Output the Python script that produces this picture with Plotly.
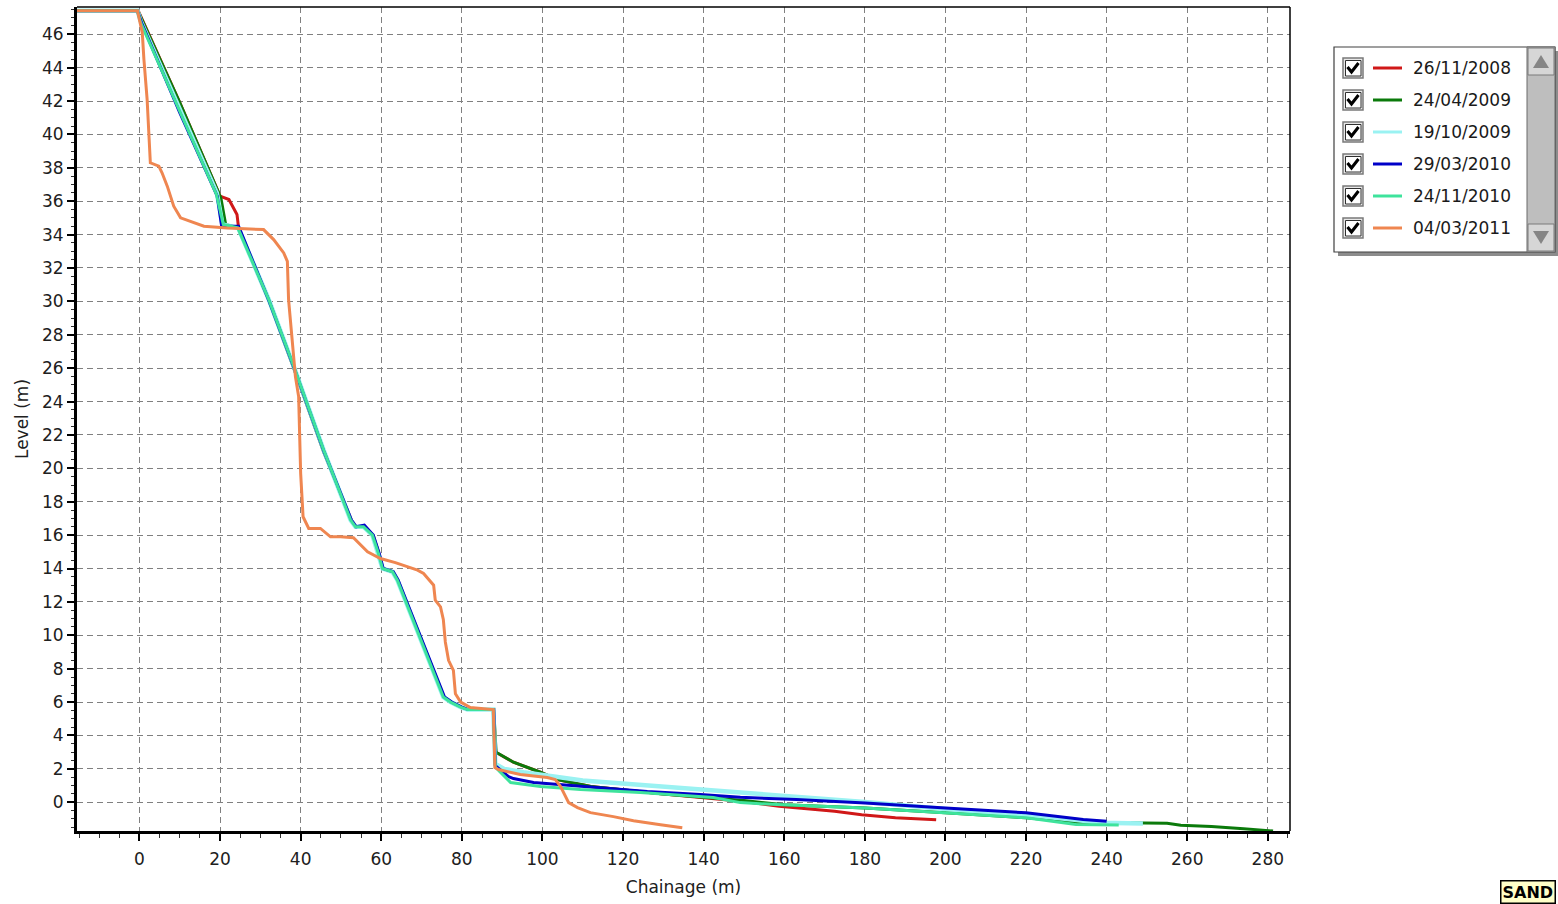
import plotly.graph_objects as go

# ---------------- data ----------------
dates = ["26/11/2008", "24/04/2009", "19/10/2009", "29/03/2010", "24/11/2010", "04/03/2011"]
colors = ["#D01818", "#0B7A0B", "#9AF2F2", "#0000C8", "#3EE39C", "#EF8650"]
widths = [3, 3, 4.5, 3, 3, 3]

x_2008_11 = [-15.5, -0.3, 10.0, 20.0, 22.2, 24.2, 24.6, 32.2, 38.3, 45.7, 52.6, 53.8, 55.8, 58.0, 59.4, 60.4,
             62.9, 64.1, 75.5, 77.3, 79.8, 81.5, 87.9, 88.4, 92.8, 99.5, 103.7, 112.0, 130.0, 150.0, 158.7,
             172.5, 179.2, 187.6, 197.7]
y_2008_11 = [47.4, 47.4, 41.9, 36.3, 36.1, 35.2, 34.4, 30.0, 26.0, 21.0, 16.9, 16.5, 16.5, 16.0, 14.9, 14.0,
             13.8, 13.3, 6.3, 6.0, 5.7, 5.55, 5.55, 3.0, 2.4, 1.8, 1.36, 0.95, 0.5, 0.05, -0.24,
             -0.54, -0.74, -0.92, -1.04]

x_2009_04 = [-15.5, -0.4, 10.0, 20.2, 21.4, 24.5, 32.2, 38.3, 45.7, 52.5, 53.7, 55.7, 57.9, 59.3, 60.3, 62.8,
             64.0, 75.5, 77.3, 79.8, 81.5, 87.9, 88.5, 92.8, 99.5, 103.7, 112.0, 130.0, 150.0, 160.0, 180.1,
             200.0, 220.0, 232.4, 249.6, 255.0, 258.4, 266.0, 274.0, 281.3]
y_2009_04 = [47.4, 47.4, 41.9, 36.2, 34.6, 34.4, 30.0, 26.0, 21.0, 16.9, 16.5, 16.5, 16.0, 14.9, 14.0, 13.8,
             13.3, 6.3, 6.0, 5.7, 5.55, 5.55, 3.0, 2.4, 1.8, 1.36, 0.95, 0.5, 0.1, -0.15, -0.34,
             -0.63, -0.93, -1.2, -1.22, -1.25, -1.37, -1.45, -1.58, -1.72]

x_2009_10 = [-15.5, -0.5, 0.3, 10.0, 19.2, 20.6, 24.5, 32.1, 38.3, 45.7, 52.4, 53.6, 55.6, 57.8, 59.3, 60.3,
             62.8, 64.0, 75.4, 77.2, 79.7, 81.4, 87.8, 88.3, 90.5, 95.3, 110.0, 130.0, 140.0, 150.0, 165.0,
             180.0, 200.0, 220.0, 232.0, 238.5, 249.0]
y_2009_10 = [47.4, 47.4, 46.8, 41.5, 36.5, 34.6, 34.4, 30.1, 26.1, 21.1, 16.9, 16.5, 16.5, 16.0, 14.9, 14.0,
             13.8, 13.3, 6.3, 6.0, 5.7, 5.55, 5.55, 2.3, 2.0, 1.8, 1.3, 0.95, 0.75, 0.55, 0.28,
             0.02, -0.4, -0.75, -1.05, -1.22, -1.27]

x_2010_03 = [-15.5, -0.5, 0.5, 10.0, 19.3, 20.4, 24.6, 32.2, 38.4, 45.8, 52.6, 53.8, 55.8, 58.0, 59.5, 60.5,
             63.0, 64.2, 75.7, 77.5, 80.0, 81.6, 87.9, 88.3, 91.6, 92.8, 97.8, 109.4, 126.0, 139.2, 149.1,
             163.0, 180.1, 200.0, 220.0, 234.2, 240.0]
y_2010_03 = [47.4, 47.4, 46.7, 41.3, 36.3, 34.5, 34.5, 30.0, 26.0, 21.0, 16.9, 16.5, 16.6, 16.0, 14.9, 14.0,
             13.8, 13.3, 6.3, 6.0, 5.7, 5.55, 5.55, 2.2, 1.54, 1.42, 1.18, 0.94, 0.64, 0.46, 0.3,
             0.16, -0.04, -0.34, -0.63, -1.03, -1.14]

x_2010_11 = [-15.5, -0.5, 0.3, 10.0, 19.1, 20.8, 24.4, 32.1, 38.3, 45.7, 52.4, 53.6, 55.6, 57.8, 59.3, 60.3,
             62.8, 64.0, 75.4, 77.2, 79.7, 81.4, 87.8, 88.3, 91.3, 92.1, 99.5, 109.4, 124.3, 142.4, 149.1,
             158.2, 180.1, 200.0, 220.0, 232.4, 243.0]
y_2010_11 = [47.4, 47.4, 46.7, 41.4, 36.4, 34.6, 34.4, 30.1, 26.1, 21.1, 16.9, 16.5, 16.5, 16.0, 14.9, 14.0,
             13.8, 13.3, 6.3, 6.0, 5.7, 5.55, 5.55, 2.1, 1.36, 1.18, 0.94, 0.76, 0.58, 0.28, -0.02,
             -0.14, -0.34, -0.63, -0.93, -1.33, -1.36]

x_2011_03 = [-15.5, -0.5, 0.7, 1.1, 1.9, 2.3, 2.7, 4.8, 5.6, 6.9, 8.5, 10.2, 11.8, 16.0, 21.8, 30.8, 33.3,
             35.8, 36.7, 37.0, 38.7, 39.5, 40.0, 40.6, 42.0, 44.9, 47.4, 49.9, 53.1, 56.6, 59.8, 63.5, 69.0,
             70.5, 73.0, 73.4, 74.7, 75.4, 75.9, 76.7, 77.9, 78.4, 79.7, 82.1, 87.8, 88.2, 89.1, 94.5, 101.2,
             103.2, 104.5, 105.7, 106.5, 108.7, 111.9, 117.6, 122.6, 129.3, 134.7]
y_2011_03 = [47.4, 47.4, 46.1, 44.5, 42.1, 39.7, 38.3, 38.1, 37.7, 36.9, 35.7, 35.0, 34.85, 34.5, 34.4, 34.3, 33.7,
             32.9, 32.4, 30.1, 25.5, 24.3, 19.7, 17.1, 16.4, 16.4, 15.9, 15.9, 15.85, 15.0, 14.6, 14.35, 13.9,
             13.7, 13.0, 12.1, 11.7, 10.95, 9.6, 8.5, 7.9, 6.5, 6.0, 5.67, 5.55, 2.08, 1.96, 1.66, 1.48,
             1.36, 0.94, 0.34, -0.02, -0.32, -0.62, -0.86, -1.1, -1.35, -1.53]

series_x = [x_2008_11, x_2009_04, x_2009_10, x_2010_03, x_2010_11, x_2011_03]
series_y = [y_2008_11, y_2009_04, y_2009_10, y_2010_03, y_2010_11, y_2011_03]

x_range = [-15.5, 285.5]
y_range = [-1.72, 47.63]

# ---------------- layout geometry ----------------
W, H = 1558, 904
PL, PR, PT, PB = 77, 1290, 7, 831
FONT = "DejaVu Sans"


def fx(p):
    return (p - PL) / (PR - PL)


def fy(p):
    return (PB - p) / (PB - PT)


fig = go.Figure()
for name, xs, ys, c, w in zip(dates, series_x, series_y, colors, widths):
    fig.add_trace(go.Scatter(x=xs, y=ys, mode="lines", name=name,
                             line=dict(color=c, width=w), showlegend=False))

shapes = []
annotations = []

# thin top / right frame
shapes.append(dict(type="line", xref="paper", yref="paper", x0=0, x1=1, y0=1, y1=1,
                   line=dict(color="black", width=1.5), layer="above"))
shapes.append(dict(type="line", xref="paper", yref="paper", x0=1, x1=1, y0=0, y1=1,
                   line=dict(color="black", width=1.5), layer="above"))

# ---- custom legend panel ----
LX0, LX1, LY0, LY1 = 1334, 1555, 47, 252
shapes.append(dict(type="rect", xref="paper", yref="paper", x0=fx(LX0 + 4), x1=fx(LX1 + 3),
                   y0=fy(LY1 + 4), y1=fy(LY0 + 4), fillcolor="#8c8c8c", line=dict(width=0)))
shapes.append(dict(type="rect", xref="paper", yref="paper", x0=fx(LX0), x1=fx(LX1),
                   y0=fy(LY1), y1=fy(LY0), fillcolor="white", line=dict(color="#404040", width=1.2)))
# scrollbar
SX0 = 1527
shapes.append(dict(type="rect", xref="paper", yref="paper", x0=fx(SX0), x1=fx(LX1),
                   y0=fy(LY1), y1=fy(LY0), fillcolor="#BEBEBE", line=dict(color="#6a6a6a", width=1)))
for (b0, b1) in [(LY0 + 1, LY0 + 28), (LY1 - 28, LY1 - 1)]:
    shapes.append(dict(type="rect", xref="paper", yref="paper", x0=fx(SX0 + 1), x1=fx(LX1 - 1),
                       y0=fy(b1), y1=fy(b0), fillcolor="#D6D6D6", line=dict(color="#7a7a7a", width=1)))
cxm = (SX0 + LX1) / 2
up = f"M {fx(cxm - 8)},{fy(LY0 + 21)} L {fx(cxm + 8)},{fy(LY0 + 21)} L {fx(cxm)},{fy(LY0 + 8)} Z"
dn = f"M {fx(cxm - 8)},{fy(LY1 - 21)} L {fx(cxm + 8)},{fy(LY1 - 21)} L {fx(cxm)},{fy(LY1 - 8)} Z"
for p in (up, dn):
    shapes.append(dict(type="path", xref="paper", yref="paper", path=p,
                       fillcolor="#858585", line=dict(width=0)))

for i, (name, c) in enumerate(zip(dates, colors)):
    cy = 68 + 32 * i
    # checkbox
    shapes.append(dict(type="rect", xref="paper", yref="paper", x0=fx(1343), x1=fx(1363),
                       y0=fy(cy + 10), y1=fy(cy - 10), fillcolor="#E8E8E8",
                       line=dict(color="#7a7a7a", width=1.5)))
    shapes.append(dict(type="rect", xref="paper", yref="paper", x0=fx(1345.5), x1=fx(1361),
                       y0=fy(cy + 8), y1=fy(cy - 7.5), fillcolor="white",
                       line=dict(color="#303030", width=1)))
    ck = (f"M {fx(1347.5)},{fy(cy - 1)} L {fx(1351.5)},{fy(cy + 4)} "
          f"L {fx(1358.5)},{fy(cy - 5)}")
    shapes.append(dict(type="path", xref="paper", yref="paper", path=ck,
                       line=dict(color="black", width=3)))
    # line sample
    shapes.append(dict(type="line", xref="paper", yref="paper", x0=fx(1373), x1=fx(1402),
                       y0=fy(cy), y1=fy(cy), line=dict(color=c, width=3)))
    annotations.append(dict(xref="paper", yref="paper", x=fx(1411), y=fy(cy), text=name,
                            showarrow=False, xanchor="left", yanchor="middle",
                            font=dict(family=FONT, size=17, color="#1a1a1a")))

# SAND tag (bottom right corner)
annotations.append(dict(xref="paper", yref="paper", x=fx(1500), y=fy(880), text="<b>SAND</b>",
                        showarrow=False, xanchor="left", yanchor="top",
                        font=dict(family=FONT, size=16, color="black"),
                        bgcolor="#FFFFC8", bordercolor="black", borderwidth=1.5, borderpad=1))

grid_style = dict(showgrid=True, gridcolor="#808080", gridwidth=1.3, griddash="6px,4px")

fig.update_layout(
    width=W, height=H,
    margin=dict(l=PL, r=W - PR, t=PT, b=H - PB, pad=0),
    paper_bgcolor="white", plot_bgcolor="white",
    font=dict(family=FONT, size=17, color="#202020"),
    showlegend=False,
    shapes=shapes,
    annotations=annotations,
    xaxis=dict(range=x_range, tick0=0, dtick=20, zeroline=False,
               showline=True, linecolor="black", linewidth=3,
               ticks="outside", ticklen=7, tickwidth=1.5, tickcolor="black",
               ticklabelstandoff=4,
               minor=dict(dtick=5, tick0=0, ticks="outside", ticklen=4, tickwidth=1.2,
                          tickcolor="#303030", showgrid=False),
               tickfont=dict(family=FONT, size=17, color="#202020"),
               title=dict(text="Chainage (m)", font=dict(family=FONT, size=17, color="#202020"),
                          standoff=13),
               **grid_style),
    yaxis=dict(range=y_range, tick0=0, dtick=2, zeroline=False,
               showline=True, linecolor="black", linewidth=3,
               ticks="outside", ticklen=7, tickwidth=1.5, tickcolor="black",
               minor=dict(dtick=0.5, tick0=0, ticks="outside", ticklen=3, tickwidth=1,
                          tickcolor="#303030", showgrid=False),
               tickfont=dict(family=FONT, size=17, color="#202020"),
               title=dict(text="Level (m)", font=dict(family=FONT, size=17, color="#202020"),
                          standoff=10),
               **grid_style),
)

fig.write_html("out.html",
               config={"displayModeBar": False},
               post_script="document.body.style.margin='0';document.body.style.overflow='hidden';")
